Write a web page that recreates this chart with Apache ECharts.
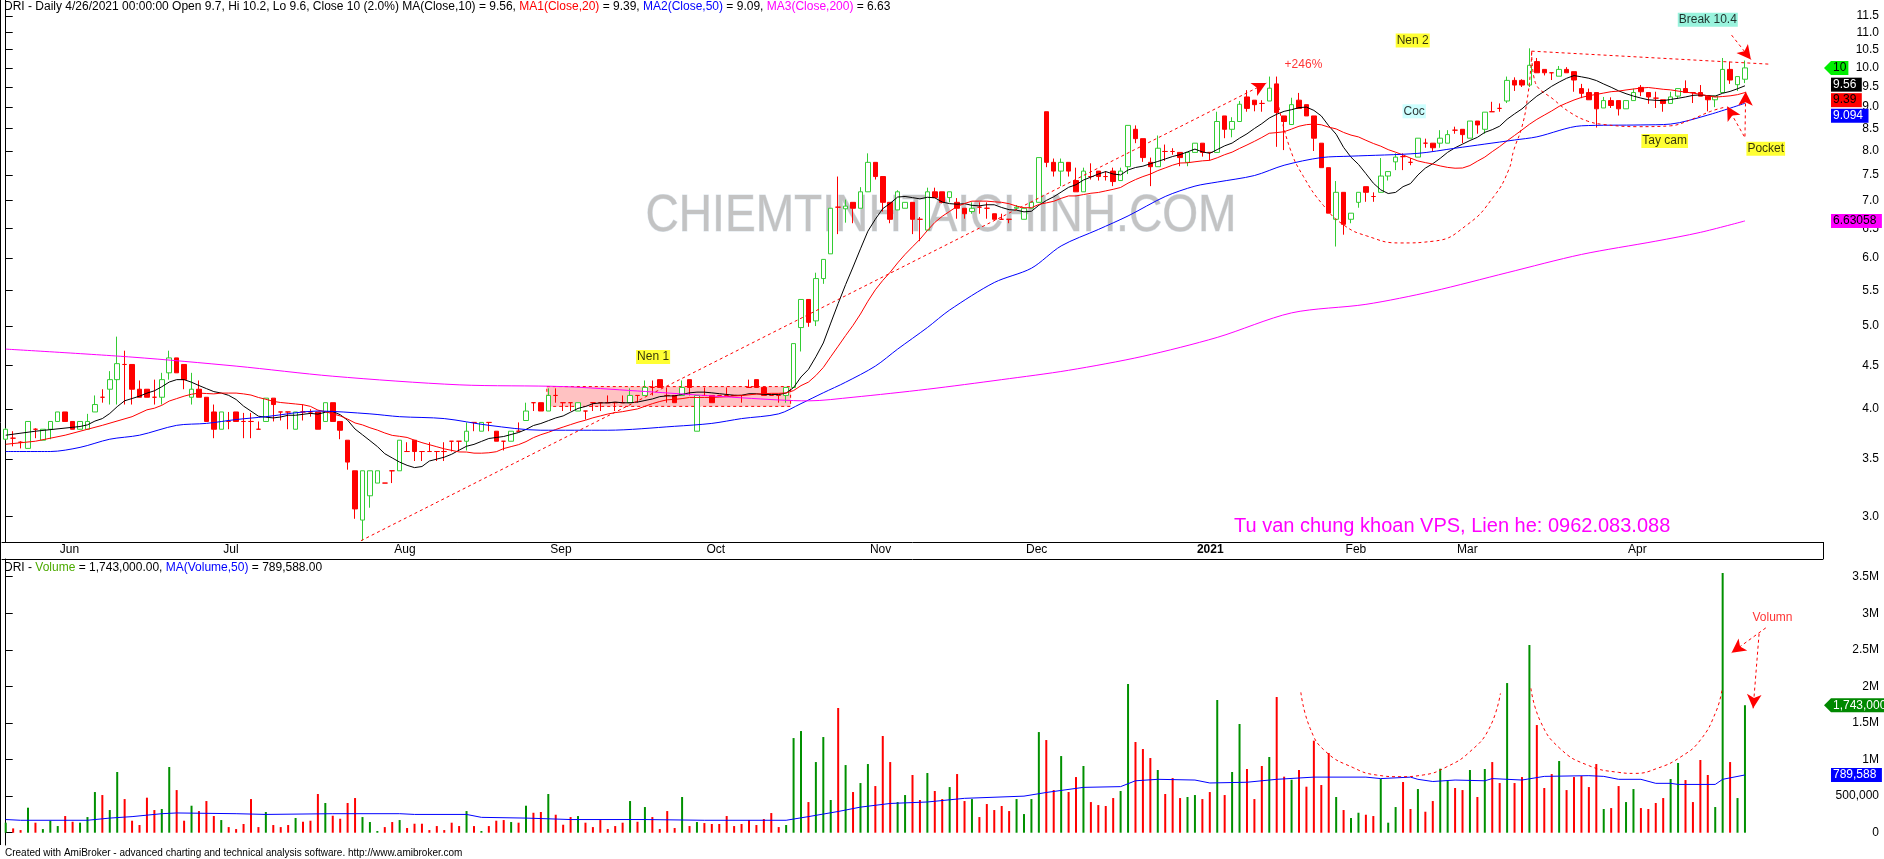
<!DOCTYPE html>
<html>
<head>
<meta charset="utf-8">
<title>DRI - Daily</title>
<script src="https://cdn.jsdelivr.net/npm/echarts@6/dist/echarts.min.js"></script>
<style>
  html, body { margin: 0; padding: 0; background: #fff; }
  #main { width: 1884px; height: 859px; }
</style>
</head>
<body>
<div id="main"></div>
<script>
// trading days shown: 21 May 2020 .. 26 Apr 2021, VN market holidays removed
const firstDay = '2020-05-21';
const lastDay = '2021-04-26';
const holidays = ['2020-09-02', '2021-01-01', '2021-02-10', '2021-02-11', '2021-02-12',
  '2021-02-15', '2021-02-16', '2021-04-21'];
const monthLabels = ['2021', 'Feb', 'Mar', 'Apr', 'May', 'Jun', 'Jul', 'Aug', 'Sep', 'Oct', 'Nov', 'Dec'];

// [open, high, low, close]
const ohlc = [
  [3.69,3.80,3.68,3.79],[3.70,3.77,3.62,3.70],[3.66,3.67,3.60,3.66],[3.60,3.87,3.60,3.87],[3.79,3.80,3.70,3.79],
  [3.68,3.79,3.68,3.79],[3.79,3.87,3.69,3.87],[3.87,3.97,3.87,3.97],[3.97,3.97,3.87,3.87],[3.87,3.87,3.79,3.79],
  [3.79,3.87,3.79,3.87],[3.79,3.95,3.79,3.87],[3.97,4.15,3.97,4.05],[4.13,4.22,4.07,4.13],[4.22,4.43,4.05,4.33],
  [4.33,4.86,4.05,4.52],[4.51,4.68,4.05,4.51],[4.51,4.51,4.05,4.22],[4.22,4.32,4.13,4.13],[4.22,4.22,4.13,4.13],
  [4.13,4.33,4.05,4.13],[4.13,4.41,4.05,4.33],[4.41,4.68,4.33,4.59],[4.59,4.59,4.41,4.41],[4.51,4.51,4.22,4.33],
  [4.13,4.41,4.05,4.22],[4.22,4.32,4.13,4.13],[4.13,4.13,3.87,3.87],[3.97,4.05,3.70,3.79],[3.79,3.97,3.79,3.97],
  [3.87,3.97,3.79,3.87],[3.97,3.97,3.87,3.87],[3.87,3.96,3.70,3.87],[3.87,3.96,3.70,3.87],[3.79,3.87,3.79,3.79],
  [3.87,4.12,3.87,4.12],[4.12,4.12,3.87,4.05],[3.97,3.97,3.88,3.97],[3.97,3.97,3.79,3.97],[3.79,3.97,3.79,3.97],
  [3.97,4.05,3.88,3.97],[3.97,4.00,3.92,3.97],[3.97,3.97,3.79,3.79],[3.87,4.07,3.87,4.07],[4.07,4.07,3.87,3.87],
  [3.87,3.87,3.69,3.78],[3.68,3.68,3.40,3.47],[3.39,3.39,2.98,3.06],[2.97,3.39,2.81,3.39],[3.17,3.39,3.07,3.39],
  [3.28,3.39,3.28,3.39],[3.28,3.28,3.28,3.28],[3.39,3.39,3.28,3.39],[3.39,3.68,3.39,3.68],[3.57,3.66,3.57,3.57],
  [3.68,3.68,3.48,3.57],[3.57,3.57,3.48,3.57],[3.57,3.66,3.57,3.57],[3.57,3.57,3.48,3.57],[3.57,3.66,3.48,3.57],
  [3.67,3.67,3.57,3.67],[3.67,3.67,3.58,3.67],[3.67,3.86,3.58,3.77],[3.86,3.86,3.77,3.86],[3.77,3.86,3.77,3.86],
  [3.86,3.86,3.77,3.86],[3.77,3.77,3.67,3.67],[3.67,3.67,3.58,3.67],[3.67,3.77,3.67,3.77],[3.77,3.86,3.77,3.77],
  [3.88,4.07,3.88,3.98],[4.07,4.07,3.98,4.07],[4.07,4.07,3.98,3.98],[3.98,4.23,3.98,4.15],[4.15,4.23,4.07,4.15],
  [4.07,4.07,3.98,4.07],[4.07,4.07,3.98,4.07],[3.98,4.07,3.98,4.07],[3.98,3.98,3.89,3.98],[4.07,4.07,3.98,4.07],
  [4.07,4.07,3.98,4.07],[4.07,4.15,4.07,4.07],[4.07,4.07,3.98,4.07],[4.07,4.15,4.07,4.07],[4.07,4.23,4.07,4.15],
  [4.15,4.15,4.07,4.15],[4.15,4.32,4.15,4.24],[4.24,4.32,4.15,4.24],[4.33,4.33,4.24,4.24],[4.15,4.24,4.07,4.15],
  [4.15,4.15,4.07,4.07],[4.15,4.32,4.15,4.24],[4.33,4.33,4.15,4.24],[3.77,4.15,3.77,4.15],[4.15,4.24,4.15,4.15],
  [4.15,4.15,4.07,4.07],[4.15,4.15,4.15,4.15],[4.15,4.24,4.15,4.15],[4.15,4.15,4.15,4.15],[4.15,4.15,4.07,4.15],
  [4.24,4.33,4.24,4.24],[4.33,4.33,4.24,4.24],[4.24,4.24,4.15,4.15],[4.15,4.15,4.15,4.15],[4.15,4.15,4.07,4.15],
  [4.15,4.24,4.07,4.24],[4.24,4.77,4.24,4.77],[4.98,5.37,4.67,5.37],[5.37,5.37,4.99,5.05],[5.07,5.77,5.00,5.68],
  [5.68,5.98,5.60,5.98],[6.07,6.86,6.07,6.86],[6.88,7.47,6.40,6.88],[6.85,7.02,6.60,6.90],[6.97,6.97,6.59,6.86],
  [6.86,7.26,6.86,7.17],[7.17,7.95,7.17,7.76],[7.76,7.76,7.41,7.47],[7.47,7.47,6.80,6.97],[6.97,6.97,6.59,6.66],
  [6.83,7.20,6.83,7.17],[6.86,6.97,6.86,6.97],[6.97,6.97,6.40,6.66],[6.66,6.70,6.28,6.66],[6.47,7.25,6.47,7.17],
  [7.17,7.25,7.06,7.06],[7.17,7.17,6.95,6.97],[7.06,7.17,6.97,7.17],[6.97,7.05,6.67,6.86],[6.86,6.86,6.67,6.76],
  [6.80,6.97,6.76,6.86],[6.88,6.97,6.76,6.88],[6.86,6.97,6.67,6.86],[6.76,6.76,6.66,6.66],[6.66,6.76,6.66,6.66],
  [6.66,6.66,6.59,6.66],[6.86,6.92,6.83,6.88],[6.66,6.86,6.66,6.86],[6.86,6.97,6.86,6.97],[6.97,7.86,6.97,7.86],
  [8.89,8.89,7.66,7.76],[7.76,7.84,7.47,7.58],[7.58,7.84,7.28,7.76],[7.76,7.76,7.47,7.58],[7.39,7.65,7.17,7.17],
  [7.17,7.65,7.17,7.58],[7.47,7.74,7.41,7.47],[7.58,7.58,7.39,7.47],[7.47,7.58,7.39,7.47],[7.58,7.65,7.28,7.37],
  [7.39,7.65,7.39,7.58],[7.67,8.57,7.52,8.57],[8.48,8.57,8.17,8.27],[8.27,8.27,7.77,7.86],[7.76,7.86,7.28,7.67],
  [7.67,8.34,7.67,8.06],[7.99,8.14,7.79,7.99],[7.99,8.06,7.92,7.99],[7.97,7.97,7.68,7.86],[7.76,7.97,7.68,7.97],
  [7.97,8.17,7.97,8.17],[8.17,8.17,7.88,7.97],[7.97,7.97,7.80,7.97],[7.97,8.89,7.97,8.66],[8.79,8.79,8.28,8.48],
  [8.48,8.76,8.30,8.66],[8.66,9.15,8.66,9.07],[9.25,9.42,8.89,8.97],[9.17,9.17,8.90,9.06],[9.09,9.17,8.89,9.09],
  [9.15,9.77,9.15,9.47],[9.58,9.77,8.09,8.87],[8.79,8.79,8.02,8.66],[8.59,9.23,8.59,9.06],[9.17,9.35,8.97,8.97],
  [9.06,9.06,8.79,8.79],[8.79,8.79,8.00,8.28],[8.17,8.17,7.65,7.65],[7.65,7.65,6.77,6.77],[6.66,7.38,6.19,7.16],
  [7.16,7.16,6.39,6.57],[6.66,6.77,6.59,6.77],[6.97,7.16,6.87,7.16],[7.27,7.27,6.98,7.16],[7.08,7.16,6.98,7.08],
  [7.16,7.85,7.16,7.48],[7.48,7.57,7.39,7.57],[7.77,7.95,7.60,7.87],[7.88,7.95,7.60,7.88],[7.76,7.85,7.70,7.76],
  [7.87,8.28,7.87,8.28],[8.17,8.27,8.07,8.17],[8.17,8.17,8.00,8.07],[8.17,8.46,8.07,8.28],[8.17,8.46,8.17,8.36],
  [8.46,8.54,8.38,8.46],[8.48,8.48,8.17,8.36],[8.28,8.67,8.28,8.67],[8.67,8.67,8.38,8.58],[8.48,8.88,8.38,8.88],
  [8.89,9.13,8.89,8.89],[8.97,9.09,8.89,8.97],[9.15,9.77,9.10,9.67],[9.67,9.75,9.40,9.55],[9.67,9.70,9.50,9.55],
  [9.55,10.54,9.50,10.07],[10.17,10.27,9.87,9.87],[9.96,9.96,9.80,9.87],[9.87,9.87,9.68,9.87],[9.78,10.05,9.78,9.96],
  [9.96,10.02,9.87,9.87],[9.90,9.90,9.38,9.68],[9.46,9.58,9.22,9.34],[9.36,9.46,9.18,9.18],[9.36,9.36,8.52,8.96],
  [8.98,9.25,8.98,9.16],[9.16,9.24,8.98,9.04],[9.16,9.16,8.80,8.96],[8.96,9.16,8.96,9.16],[9.16,9.46,9.16,9.36],
  [9.49,9.55,9.27,9.38],[9.36,9.36,9.08,9.25],[9.22,9.38,8.98,9.22],[9.18,9.18,8.89,9.09],[9.09,9.38,9.09,9.25],
  [9.27,9.46,9.20,9.46],[9.46,9.67,9.36,9.36],[9.36,9.36,9.10,9.36],[9.36,9.55,9.27,9.27],[9.27,9.27,8.90,9.18],
  [9.18,9.27,9.00,9.27],[9.36,10.27,9.36,9.96],[9.96,10.17,9.58,9.68],[9.56,9.77,9.40,9.77],[9.70,10.20,9.60,10.00]
];

// volume in thousands of shares
const volumeK = [
  137,59,36,342,137,50,164,91,228,150, 137,214,556,515,310,830,460,164,105,479,
  310,324,898,583,164,369,296,433,228,173, 77,50,119,460,77,283,105,77,105,201,
  150,164,529,406,232,191,406,474,214,146, 23,77,146,173,64,123,123,36,91,36,
  137,91,296,91,23,91,164,173,146,137, 369,273,283,529,246,109,214,228,137,77,
  173,50,91,137,433,150,
  351,214,50,296,64,488,91,146,132,119, 119,228,91,119,173,105,187,269,77,105,
  1294,1390,419,966,1308,447,1705,925,556,679, 939,638,1322,966,419,515,789,447,816,570,
  460,624,802,433,460,214,392,310,365,296, 460,255,460,1376,1267,583,1048,556,761,912,
  419,378,365,474,570,2033,1240,1144,1021,857, 529,747,474,488,515,460,556,1814,515,830,
  1486,871,460,912,1035,1855,
  766,725,857,629,1258,652,1089,488,310,201, 273,246,228,734,137,351,693,324,597,287,
  433,875,706,611,583,857,488,871,966,679, 2046,679,761,2566,1472,611,802,980,583,761,
  775,624,939,324,337,638,419,597,337,324, 406,474,734,953,720,419,994,789,351,3551,
  966,474,1743
];

// moving averages that need bars from before the window: as [bar, value]
const ma10Head = [[0, 3.73], [4, 3.77]];
const ma20Head = [[0, 3.64], [4, 3.67], [8, 3.73], [13, 3.83], [17, 3.92]];
const ma50Read = [[0,3.57],[6,3.57],[10,3.61],[14,3.69],[18,3.73],[23,3.83],[27,3.85],[31,3.89],[35,3.92],
  [42,3.98],[49,3.95],[53,3.92],[59,3.90],[65,3.83],[72,3.78],[81,3.78],[90,3.82],[95,3.85],[99,3.90],
  [104,3.95],[107,4.06],[110,4.18],[113,4.30],[117,4.49],[120,4.70],[124,4.98],[127,5.22],[133,5.62],
  [138,5.84],[142,6.20],[147,6.48],[151,6.72],[156,7.08],[160,7.28],[163,7.36],[168,7.49],[172,7.70],
  [177,7.86],[181,7.89],[190,7.95],[195,8.06],[199,8.15],[203,8.24],[206,8.31],[212,8.56],[220,8.58],
  [224,8.60],[229,8.81],[234,9.094]];
const ma200Read = [[0,4.70],[17,4.60],[31,4.49],[44,4.37],[61,4.27],[75,4.25],[85,4.20],[94,4.15],
  [104,4.10],[108,4.09],[114,4.13],[124,4.22],[134,4.33],[143,4.44],[153,4.61],[163,4.85],[173,5.18],
  [183,5.30],[192,5.49],[202,5.77],[212,6.06],[222,6.28],[228,6.43],[234,6.63058]];
// MA(Volume,50) in millions
const volMaRead = [[0,0.18],[2,0.17],[11,0.17],[14,0.20],[17,0.22],[21,0.26],[23,0.27],[31,0.26],[35,0.25],
  [44,0.26],[53,0.26],[55,0.25],[62,0.25],[64,0.21],[70,0.20],[76,0.18],[86,0.18],[94,0.17],[105,0.17],
  [108,0.22],[112,0.29],[115,0.35],[119,0.40],[124,0.42],[129,0.47],[137,0.50],[140,0.55],[145,0.62],
  [150,0.63],[152,0.71],[155,0.73],[160,0.72],[162,0.68],[167,0.69],[171,0.73],[176,0.76],[183,0.76],
  [185,0.74],[189,0.76],[190,0.73],[192,0.70],[195,0.72],[199,0.71],[200,0.74],[204,0.72],[207,0.77],
  [213,0.78],[215,0.77],[217,0.73],[220,0.73],[222,0.675],[224,0.675],[225,0.66],[230,0.66],[231,0.73],
  [234,0.789588]];

// hand-drawn annotations, [bar, price]
const riseLine = [[47.8, 2.81], [169.6, 9.6]];
const cupArc = [[171.3,9.0],[172.8,8.05],[174.6,7.47],[177.3,6.91],[180,6.56],[183.1,6.37],[187.6,6.25],
  [192.1,6.28],[196.6,6.56],[200.2,7.08],[202.2,7.60],[202.9,8.02],[204.0,8.54],[204.7,9.18],[205.2,10.03],[205.3,10.46]];
const handleLine = [[205.3,10.46],[205.8,9.61],[208.3,9.18],[210.5,8.87],[212.8,8.67],[215,8.59],[219.5,8.54],
  [224,8.56],[226.7,8.70],[229.4,8.90],[231.3,9.0]];
const topLine = [[205.3, 10.46], [237.4, 10.10]];
const arrows = [
  [[232.2, 10.92], [234.8, 10.23]],
  [[233.9, 8.32], [231.6, 9.02]],
  [[234.0, 8.32], [234.1, 9.38]]
];
const baseBox = [[72.8, 4.25], [105.6, 4.03]];
// volume panel annotations, [bar, millions]
const volCupA = [[174.25,1.919],[175.5,1.427],[177.6,1.108],[181.3,0.889],[184.4,0.789],[187.6,0.766],
  [190.7,0.789],[193.9,0.902],[197.0,1.108],[199.6,1.427],[201.1,1.905]];
const volCupB = [[205.2,1.974],[206.5,1.518],[209.1,1.153],[212.8,0.925],[217.0,0.825],[219.1,0.811],
  [222.2,0.880],[225.4,1.039],[228.0,1.267],[230.1,1.655],[230.9,1.951]];
const volArrows = [
  [[236.8, 2.80], [232.2, 2.46]],
  [[235.9, 2.72], [235.1, 1.70]]
];

const priceNotes = [
  { name: 'Nen 1', value: [87.1, 4.60], bg: '#ffff00', color: '#000' },
  { name: 'Nen 2', value: [189.3, 10.76], bg: '#ffff00', color: '#000' },
  { name: '+246%', value: [174.6, 10.08], bg: 'transparent', color: '#ff0000' },
  { name: 'Coc', value: [189.5, 8.90], bg: '#c0ffff', color: '#000' },
  { name: 'Tay cam', value: [223.2, 8.22], bg: '#ffff00', color: '#000' },
  { name: 'Pocket', value: [236.8, 8.05], bg: '#ffff00', color: '#000' },
  { name: 'Break 10.4', value: [229.0, 11.38], bg: '#7ff0d4', color: '#000' }
];
const volNotes = [{ name: 'Volumn', value: [237.7, 2.94], color: '#ff0000' }];

const priceTicks = [3, 3.5, 4, 4.5, 5, 5.5, 6, 6.5, 7, 7.5, 8, 8.5, 9, 9.5, 10, 10.5, 11, 11.5];
const volTicks = [0, 500000, 1000000, 1500000, 2000000, 2500000, 3000000, 3500000];

const priceTags = [
  { value: 10, text: '10', bg: '#00ee00', color: '#000', arrow: true },
  { value: 9.56, text: '9.56', bg: '#000000', color: '#fff' },
  { value: 9.39, text: '9.39', bg: '#ff0000', color: '#000' },
  { value: 9.094, text: '9.094', bg: '#0000ff', color: '#fff' },
  { value: 6.63058, text: '6.63058', bg: '#ff00ff', color: '#000' }
];
const volTags = [
  { value: 1743000, text: '1,743,000', bg: '#008800', color: '#fff', arrow: true },
  { value: 789588, text: '789,588', bg: '#0000ff', color: '#fff' }
];

const RED = '#ff0000';
const UP = '#33cc33';
const VOL_UP = '#009000';
const FONT = '"Liberation Sans", Arial, sans-serif';
const AXIS_X = 1823;
const LAST_BAND = 244;

function tradingDays() {
  const out = [];
  const d = new Date(firstDay + 'T00:00:00Z');
  const end = new Date(lastDay + 'T00:00:00Z');
  while (d <= end) {
    const s = d.toISOString().slice(0, 10);
    const wd = d.getUTCDay();
    if (wd !== 0 && wd !== 6 && holidays.indexOf(s) < 0) out.push(s);
    d.setUTCDate(d.getUTCDate() + 1);
  }
  return out;
}
const dates = tradingDays();

function isMonthStart(idx) {
  return idx > 0 && idx < dates.length && dates[idx].slice(5, 7) !== dates[idx - 1].slice(5, 7);
}

function movingAvg(n, head) {
  const pts = head.slice();
  for (let i = n - 1; i < ohlc.length; i++) {
    let s = 0;
    for (let k = i - n + 1; k <= i; k++) s += ohlc[k][3];
    pts.push([i, s / n]);
  }
  return pts;
}

const candleData = ohlc.map(function (b) {
  const item = { value: [b[0], b[3], b[2], b[1]] };
  if (b[3] <= b[0]) {
    item.itemStyle = { color: RED, color0: RED, borderColor: RED, borderColor0: RED };
  }
  return item;
});
const volData = volumeK.map(function (v, i) {
  return { value: v * 1000, itemStyle: { color: ohlc[i][3] > ohlc[i][0] ? VOL_UP : RED } };
});
const toShares = function (p) { return [p[0], p[1] * 1e6]; };

const dash = { type: [3, 3], color: RED, width: 1 };

function maLine(name, data, color, xi, yi, smooth) {
  return {
    name: name, type: 'line', xAxisIndex: xi, yAxisIndex: yi, data: data,
    showSymbol: false, smooth: smooth || false, silent: true, z: 4,
    lineStyle: { color: color, width: 1 }
  };
}
function dashLine(data, xi, yi, smooth) {
  return {
    type: 'line', xAxisIndex: xi, yAxisIndex: yi, data: data, showSymbol: false,
    smooth: smooth || false, silent: true, z: 5, lineStyle: dash
  };
}
function arrowSeries(list, xi, yi) {
  return {
    type: 'line', xAxisIndex: xi, yAxisIndex: yi, data: [], silent: true, z: 5,
    markLine: {
      silent: true, symbol: ['none', 'arrow'], symbolSize: [11, 14],
      lineStyle: dash, label: { show: false },
      data: list.map(function (a) { return [{ coord: a[0] }, { coord: a[1] }]; })
    }
  };
}
function noteSeries(notes, xi, yi) {
  return {
    type: 'scatter', xAxisIndex: xi, yAxisIndex: yi, symbolSize: 0, silent: true, z: 6,
    data: notes.map(function (n) {
      return {
        name: n.name, value: n.value,
        label: {
          show: true, position: 'inside', formatter: '{b}', color: n.color,
          backgroundColor: n.bg || 'transparent', padding: [1, 1, 0, 1],
          fontSize: 12, fontFamily: FONT, lineHeight: 13
        }
      };
    })
  };
}

const axisFont = { fontSize: 12, fontFamily: FONT, color: '#000' };

const option = {
  animation: false,
  backgroundColor: '#fff',
  title: [{
    left: 3, top: 0, padding: 1,
    text: '{k|DRI - Daily 4/26/2021 00:00:00 Open 9.7, Hi 10.2, Lo 9.6, Close 10 (2.0%) MA(Close,10) = 9.56, }' +
      '{r|MA1(Close,20)}{k| = 9.39, }{b|MA2(Close,50)}{k| = 9.09, }{m|MA3(Close,200)}{k| = 6.63}',
    textStyle: {
      fontSize: 12, fontWeight: 'normal', fontFamily: FONT,
      rich: {
        k: { color: '#000', fontSize: 12, fontFamily: FONT },
        r: { color: RED, fontSize: 12, fontFamily: FONT },
        b: { color: '#0000ff', fontSize: 12, fontFamily: FONT },
        m: { color: '#ff00ff', fontSize: 12, fontFamily: FONT }
      }
    }
  }, {
    left: 3, top: 561, padding: 1,
    text: '{k|DRI - }{g|Volume}{k| = 1,743,000.00, }{b|MA(Volume,50)}{k| = 789,588.00}',
    textStyle: {
      fontSize: 12, fontWeight: 'normal', fontFamily: FONT,
      rich: {
        k: { color: '#000', fontSize: 12, fontFamily: FONT },
        g: { color: '#4caa00', fontSize: 12, fontFamily: FONT },
        b: { color: '#0000ff', fontSize: 12, fontFamily: FONT }
      }
    }
  }],
  grid: [
    { left: 2, right: 61, top: 0, height: 542 },
    { left: 2, right: 61, top: 559, height: 286 }
  ],
  xAxis: [
    {
      type: 'category', gridIndex: 0, data: dates, max: LAST_BAND, boundaryGap: true,
      axisLine: { onZero: false, lineStyle: { color: '#000', width: 1 } },
      axisTick: { interval: isMonthStart, alignWithLabel: true, length: 7, lineStyle: { color: '#000' } },
      axisLabel: {
        interval: isMonthStart, align: 'left', margin: 2, padding: [0, 0, 0, 2],
        fontSize: 12, fontFamily: FONT, color: '#000', lineHeight: 12,
        formatter: function (v) {
          if (!v) return '';
          const m = parseInt(v.slice(5, 7), 10) - 1;
          return m === 0 ? '{y|' + monthLabels[0] + '}' : monthLabels[m];
        },
        rich: { y: { fontWeight: 'bold', fontSize: 12, fontFamily: FONT, color: '#000' } }
      },
      splitLine: { show: false }
    },
    { type: 'value', gridIndex: 0, min: -0.5, max: LAST_BAND + 0.5, show: false },
    {
      type: 'category', gridIndex: 1, data: dates, max: LAST_BAND, boundaryGap: true, position: 'top',
      axisLine: { onZero: false, lineStyle: { color: '#000', width: 1 } },
      axisTick: { show: false }, axisLabel: { show: false }, splitLine: { show: false }
    },
    { type: 'value', gridIndex: 1, min: -0.5, max: LAST_BAND + 0.5, show: false }
  ],
  yAxis: [
    {
      type: 'log', logBase: 10, gridIndex: 0, position: 'right', min: 2.8, max: 12.0,
      axisLine: { show: true, lineStyle: { color: '#000', width: 1 } },
      axisTick: { show: true, customValues: priceTicks, length: 7, lineStyle: { color: '#000' } },
      axisLabel: Object.assign({
        customValues: priceTicks, align: 'right', margin: 56,
        formatter: function (v) { return Number(v).toFixed(1); }
      }, axisFont),
      splitLine: { show: false }, minorTick: { show: false }
    },
    {
      type: 'value', gridIndex: 1, position: 'right', min: -168000, max: 3742000,
      axisLine: { show: true, lineStyle: { color: '#000', width: 1 } },
      axisTick: { show: true, customValues: volTicks, length: 7, lineStyle: { color: '#000' } },
      axisLabel: Object.assign({
        customValues: volTicks, align: 'right', margin: 56,
        formatter: function (v) {
          if (v === 0) return '0';
          if (v === 500000) return '500,000';
          return (v / 1e6) + 'M';
        }
      }, axisFont),
      splitLine: { show: false }
    }
  ],
  series: [
    {
      type: 'line', xAxisIndex: 1, yAxisIndex: 0, data: [], silent: true, z: 1,
      markArea: {
        silent: true,
        itemStyle: { color: '#ffc2c2', borderColor: RED, borderType: [3, 3], borderWidth: 1 },
        data: [[{ coord: baseBox[0] }, { coord: baseBox[1] }]]
      }
    },
    {
      name: 'DRI', type: 'candlestick', xAxisIndex: 0, yAxisIndex: 0, data: candleData,
      barWidth: 5, silent: true, z: 3,
      itemStyle: { color: '#ffffff', color0: RED, borderColor: UP, borderColor0: RED, borderWidth: 1 }
    },
    maLine('MA(Close,10)', movingAvg(10, ma10Head), '#000000', 1, 0),
    maLine('MA1(Close,20)', movingAvg(20, ma20Head), RED, 1, 0),
    maLine('MA2(Close,50)', ma50Read, '#0000ff', 1, 0, 0.3),
    maLine('MA3(Close,200)', ma200Read, '#ff00ff', 1, 0, 0.3),
    dashLine(cupArc, 1, 0, 0.5),
    dashLine(handleLine, 1, 0, 0.4),
    dashLine(topLine, 1, 0),
    arrowSeries([riseLine].concat(arrows), 1, 0),
    noteSeries(priceNotes, 1, 0),
    {
      name: 'Volume', type: 'bar', xAxisIndex: 2, yAxisIndex: 1, data: volData,
      barWidth: 2, silent: true, z: 3
    },
    maLine('MA(Volume,50)', volMaRead.map(toShares), '#0000ff', 3, 1),
    dashLine(volCupA.map(toShares), 3, 1, 0.5),
    dashLine(volCupB.map(toShares), 3, 1, 0.5),
    arrowSeries(volArrows.map(function (a) { return [toShares(a[0]), toShares(a[1])]; }), 3, 1),
    noteSeries(volNotes.map(function (n) {
      return { name: n.name, value: toShares(n.value), color: n.color };
    }), 3, 1)
  ]
};

const chart = echarts.init(document.getElementById('main'));
chart.setOption(option);

// value tags on the right axis, stacked so they do not cover each other
function tagElements(tags, axisIndex) {
  const H = 14, GAP = 1.5;
  const items = tags.map(function (t) {
    return { t: t, y: chart.convertToPixel({ yAxisIndex: axisIndex }, t.value) };
  }).sort(function (a, b) { return a.y - b.y; });
  let prev = -Infinity;
  const els = [];
  items.forEach(function (it) {
    const y = Math.max(it.y, prev + H + GAP);
    prev = y;
    const w = it.t.text.length * 6.7 + 4;
    const x0 = AXIS_X + 8;
    if (it.t.arrow) {
      els.push({
        type: 'polygon', z: 20, silent: true,
        shape: { points: [[AXIS_X + 1, y], [x0, y - H / 2], [x0 + w, y - H / 2], [x0 + w, y + H / 2], [x0, y + H / 2]] },
        style: { fill: it.t.bg }
      });
    } else {
      els.push({
        type: 'rect', z: 20, silent: true,
        shape: { x: x0, y: y - H / 2, width: w, height: H },
        style: { fill: it.t.bg }
      });
    }
    els.push({
      type: 'text', z: 21, silent: true, x: x0 + 2, y: y,
      style: { text: it.t.text, fill: it.t.color, font: '12px ' + FONT, align: 'left', verticalAlign: 'middle' }
    });
  });
  return els;
}

const graphics = [
  {
    type: 'text', z: 0, silent: true, x: 941, y: 217, scaleX: 0.887,
    style: {
      text: 'CHIEMTINHTAICHINH.COM', font: '52px ' + FONT, fill: '#c3c3c3',
      stroke: '#dde6ee', lineWidth: 1, align: 'center', verticalAlign: 'middle'
    }
  },
  {
    type: 'text', z: 6, silent: true, x: 1234, y: 526,
    style: {
      text: 'Tu van chung khoan VPS, Lien he: 0962.083.088', font: '20px ' + FONT,
      fill: '#ff00ff', align: 'left', verticalAlign: 'middle'
    }
  },
  {
    type: 'text', z: 6, silent: true, x: 5, y: 853,
    style: {
      text: 'Created with AmiBroker - advanced charting and technical analysis software. http://www.amibroker.com',
      font: '10px ' + FONT, fill: '#000', align: 'left', verticalAlign: 'middle'
    }
  },
  { type: 'line', z: 6, silent: true, shape: { x1: 0.5, y1: 0, x2: 0.5, y2: 845 }, style: { stroke: '#000', lineWidth: 1 } },
  { type: 'line', z: 6, silent: true, shape: { x1: AXIS_X + 0.5, y1: 542, x2: AXIS_X + 0.5, y2: 559 }, style: { stroke: '#000', lineWidth: 1 } }
].concat(tagElements(priceTags, 0), tagElements(volTags, 1));

chart.setOption({ graphic: graphics });
</script>
</body>
</html>
